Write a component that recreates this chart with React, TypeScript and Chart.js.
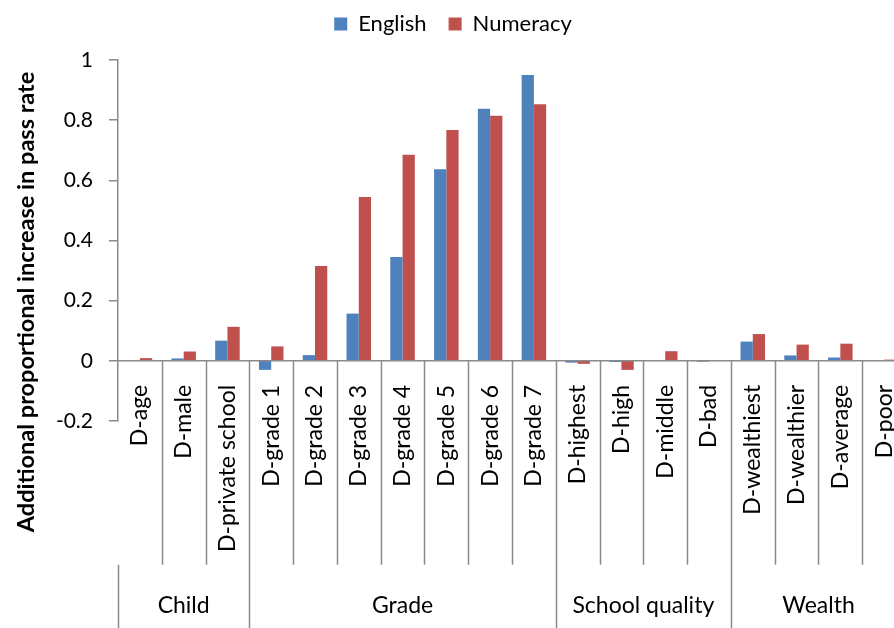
import React, { useEffect, useRef } from "react";
import { Chart, registerables } from "chart.js";

Chart.register(...registerables);

const categories = [
  "D-age", "D-male", "D-private school",
  "D-grade 1", "D-grade 2", "D-grade 3", "D-grade 4", "D-grade 5", "D-grade 6", "D-grade 7",
  "D-highest", "D-high", "D-middle", "D-bad",
  "D-wealthiest", "D-wealthier", "D-average", "D-poor",
];
const groupNames = ["Child", "Grade", "School quality", "Wealth"];
const groupSizes = [3, 7, 4, 4];
const english = [
  0.002, 0.008, 0.067,
  -0.030, 0.019, 0.157, 0.345, 0.637, 0.838, 0.950,
  -0.006, -0.004, 0.0, -0.003,
  0.064, 0.018, 0.011, 0.002,
];
const numeracy = [
  0.009, 0.031, 0.113,
  0.048, 0.315, 0.545, 0.685, 0.767, 0.815, 0.853,
  -0.010, -0.030, 0.032, 0.0,
  0.089, 0.054, 0.057, 0.004,
];
const yMin = -0.2;
const yMax = 1;
const yStep = 0.2;
const yTitle = "Additional proportional increase in pass rate";

const FONT = "Lato";
const AXIS_COLOR = "#8a8a8a";

const hierarchyPlugin = {
  id: "hierarchy",
  afterLayout(chart: any) {
    const lg = chart.legend;
    if (lg) { lg.top -= 9; lg.bottom -= 9; }
  },
  afterDraw(chart: any) {
    const { ctx, chartArea: ca } = chart;
    const xs = chart.scales.x;
    const ys = chart.scales.y;
    const n = categories.length;
    const px = (i: number) => xs.getPixelForValue(i);
    const bounds: number[] = [];
    for (let i = 1; i < n; i++) bounds[i] = (px(i - 1) + px(i)) / 2;
    bounds[0] = 2 * px(0) - bounds[1];
    bounds[n] = 2 * px(n - 1) - bounds[n - 1];
    const y0 = ys.getPixelForValue(0);
    const sepBottom = y0 + 204;
    const bottom = chart.height;

    const groupStarts = new Set<number>();
    let acc = 0;
    groupSizes.forEach((s) => { groupStarts.add(acc); acc += s; });
    groupStarts.add(acc);

    ctx.save();
    ctx.strokeStyle = AXIS_COLOR;
    ctx.lineWidth = 1.5;
    ctx.beginPath();
    ctx.moveTo(ca.left, y0);
    ctx.lineTo(ca.right, y0);
    for (let i = 0; i <= n; i++) {
      const bx = Math.round(bounds[i]) + 0.5;
      if (groupStarts.has(i)) {
        ctx.moveTo(bx, i === 0 ? sepBottom : y0);
        ctx.lineTo(bx, bottom);
      } else {
        ctx.moveTo(bx, y0);
        ctx.lineTo(bx, sepBottom);
      }
    }
    ctx.stroke();

    ctx.fillStyle = "#000";
    ctx.font = `23px ${FONT}`;
    ctx.textAlign = "right";
    ctx.textBaseline = "middle";
    for (let i = 0; i < n; i++) {
      ctx.save();
      ctx.translate(px(i), y0 + 24);
      ctx.rotate(-Math.PI / 2);
      ctx.fillText(categories[i], 0, 0);
      ctx.restore();
    }

    ctx.textAlign = "center";
    ctx.font = `23px ${FONT}`;
    let start = 0;
    groupSizes.forEach((s, g) => {
      const cx = (bounds[start] + bounds[start + s]) / 2;
      ctx.fillText(groupNames[g], cx, 606);
      start += s;
    });

    ctx.font = `bold 23.5px ${FONT}`;
    ctx.save();
    ctx.translate(26, 302);
    ctx.rotate(-Math.PI / 2);
    ctx.textAlign = "center";
    ctx.fillText(yTitle, 0, 0);
    ctx.restore();
    ctx.restore();
  },
};

const legendHeightPlugin = {
  id: "legendHeight",
  beforeInit(chart: any) {
    const legend = chart.legend;
    if (!legend) return;
    const origFit = legend.fit;
    legend.fit = function () {
      origFit.call(this);
      this.height = 60;
    };
  },
};

export default function App() {
  const ref = useRef<HTMLCanvasElement>(null);
  useEffect(() => {
    if (!ref.current) return;
    const chart = new Chart(ref.current, {
      type: "bar",
      data: {
        labels: categories,
        datasets: [
          { label: "English", data: english, backgroundColor: "#4F81BD" },
          { label: "Numeracy", data: numeracy, backgroundColor: "#C0504D" },
        ],
      },
      options: {
        responsive: false,
        animation: false,
        layout: { padding: { left: 0, right: 14, top: 0, bottom: 207 } },
        datasets: { bar: { categoryPercentage: 0.56, barPercentage: 1.0 } },
        plugins: {
          legend: {
            position: "top",
            labels: {
              boxWidth: 13,
              boxHeight: 13,
              padding: 22,
              color: "#000",
              font: { family: FONT, size: 22 },
            },
          },
          tooltip: { enabled: false },
        },
        scales: {
          x: { display: false },
          y: {
            min: yMin,
            max: yMax,
            afterFit(scale: any) { scale.width = 118; },
            ticks: {
              stepSize: yStep,
              padding: 16,
              color: "#000",
              font: { family: FONT, size: 21 },
              callback: (v: any) => String(Math.round(Number(v) * 10) / 10),
            },
            grid: { drawOnChartArea: false, tickLength: 9, color: AXIS_COLOR, lineWidth: 1.5 },
            border: { color: AXIS_COLOR, width: 1.5 },
          },
        },
      },
      plugins: [legendHeightPlugin, hierarchyPlugin],
    });
    return () => chart.destroy();
  }, []);
  return (
    <div style={{ position: "fixed", left: 0, top: 0, width: 920, height: 628, background: "#fff" }}>
      <canvas ref={ref} width={920} height={628} style={{ width: 920, height: 628 }} />
    </div>
  );
}
